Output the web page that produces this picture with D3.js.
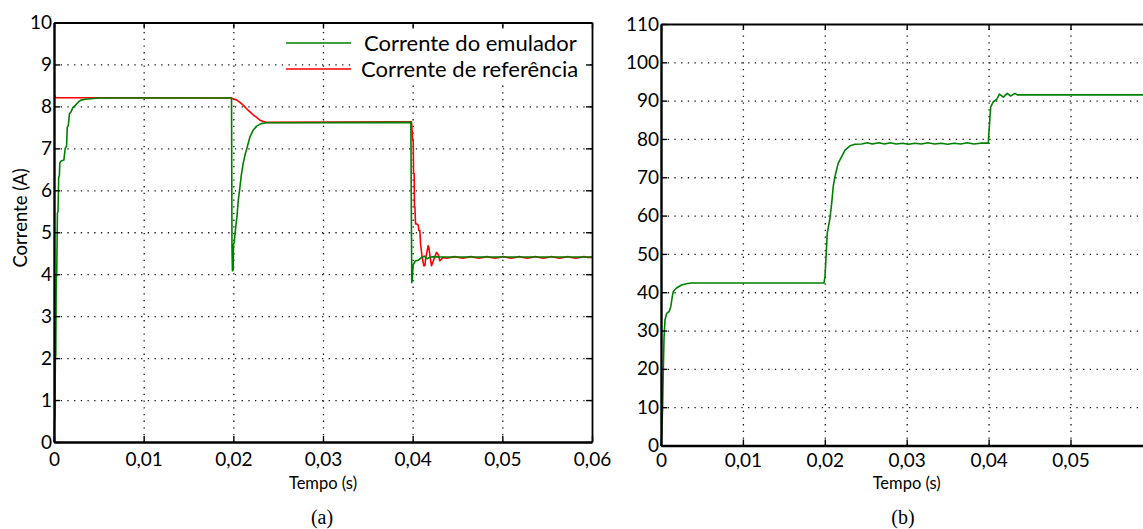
<!DOCTYPE html>
<html>
<head>
<meta charset="utf-8">
<script src="https://cdn.jsdelivr.net/npm/d3@7"></script>
<style>
  html, body { margin: 0; padding: 0; background: #fff; }
  svg { display: block; }
  text { font-family: Lato, "Noto Sans", sans-serif; fill: #000; }
  .cap { font-family: "Liberation Serif", "DejaVu Serif", serif; }
</style>
</head>
<body>
<svg id="fig" width="1143" height="529"></svg>
<script>
// ---- tick values ----
const timeTicks = [0, 0.01, 0.02, 0.03, 0.04, 0.05, 0.06];
const currentTicksA = [0, 1, 2, 3, 4, 5, 6, 7, 8, 9, 10];
const currentTicksB = [0, 10, 20, 30, 40, 50, 60, 70, 80, 90, 100, 110];

// ---- (a) emulator current, [time s, current A] ----
const emuladorA = [
  [0, 0], [0.00005, 0.5], [0.0001, 0.6], [0.00015, 2.0], [0.0002, 2.05], [0.00025, 3.9], [0.0003, 3.95],
  [0.00038, 5.45], [0.00045, 5.5], [0.00052, 6.3], [0.0006, 6.36], [0.00065, 6.65], [0.0008, 6.7],
  [0.0011, 6.72], [0.00125, 7.0], [0.0014, 7.05], [0.00148, 7.5], [0.0016, 7.55], [0.00172, 7.82],
  [0.0019, 7.87], [0.0021, 7.97], [0.0024, 8.03], [0.0027, 8.1], [0.003, 8.15], [0.0035, 8.17],
  [0.005, 8.2], [0.0198, 8.2],
  [0.01985, 4.6], [0.0199, 4.08], [0.01998, 4.1], [0.02002, 4.7], [0.0201, 4.76], [0.02025, 5.1],
  [0.0204, 5.36], [0.02055, 5.76], [0.02074, 6.08], [0.0209, 6.38], [0.0211, 6.64], [0.0213, 6.84],
  [0.0215, 6.99], [0.02185, 7.27], [0.0222, 7.43], [0.0226, 7.53], [0.0231, 7.59], [0.0237, 7.61],
  [0.0398, 7.62],
  [0.03985, 5.6], [0.0399, 3.8], [0.03995, 3.85], [0.04005, 4.22], [0.0403, 4.32], [0.0406, 4.33],
  [0.041, 4.4], [0.0413, 4.43], [0.0416, 4.37], [0.042, 4.41], [0.0424, 4.42], [0.043, 4.41],
  [0.06, 4.41]
];

// ---- (a) reference current, [time s, current A] ----
const referenciaA = [
  [0, 8.26], [0.0001, 8.25], [0.0002, 8.21], [0.0198, 8.2], [0.0199, 8.19], [0.02037, 8.15],
  [0.0207, 8.1], [0.0211, 8.03], [0.02145, 7.95], [0.02185, 7.87], [0.0222, 7.8], [0.0226, 7.74],
  [0.02297, 7.67], [0.02334, 7.64], [0.0237, 7.62], [0.0398, 7.63],
  [0.03987, 7.63], [0.04, 7.19], [0.04006, 7.19], [0.0401, 6.4], [0.04017, 6.4], [0.0402, 5.6],
  [0.04025, 5.6], [0.04032, 5.2], [0.04043, 5.2], [0.04062, 5.17], [0.0407, 5.04], [0.0408, 5.04],
  [0.04088, 4.72], [0.04106, 4.4], [0.04125, 4.2], [0.04136, 4.2], [0.04147, 4.4], [0.04173, 4.68],
  [0.04182, 4.62], [0.04192, 4.45], [0.0421, 4.2], [0.04236, 4.35], [0.04266, 4.52], [0.04285, 4.47],
  [0.04303, 4.32], [0.0434, 4.4], [0.0438, 4.38], [0.0442, 4.4], [0.0447, 4.42], [0.0451, 4.4],
  [0.0456, 4.38], [0.046, 4.4], [0.0465, 4.42], [0.0469, 4.4], [0.0474, 4.38], [0.0478, 4.4],
  [0.0483, 4.42], [0.0487, 4.4], [0.0492, 4.38], [0.0496, 4.4], [0.0501, 4.42], [0.0505, 4.4],
  [0.051, 4.38], [0.0514, 4.4], [0.0519, 4.42], [0.0523, 4.4], [0.0528, 4.38], [0.0532, 4.4],
  [0.0537, 4.42], [0.0541, 4.4], [0.0546, 4.38], [0.055, 4.4], [0.0555, 4.42], [0.0559, 4.4],
  [0.0564, 4.38], [0.0568, 4.4], [0.0573, 4.42], [0.0577, 4.4], [0.0582, 4.38], [0.0586, 4.4],
  [0.0591, 4.42], [0.0595, 4.4], [0.06, 4.4]
];

// ---- (b) emulator current, [time s, current] ----
const emuladorB = [
  [0, 0], [0.00009, 3.2], [0.0002, 10.2], [0.00028, 19.7], [0.00037, 28.1], [0.00049, 32.8],
  [0.0007, 34.5], [0.001, 35.0], [0.0012, 36.3], [0.00138, 38.9], [0.0015, 40.2], [0.0019, 41.1],
  [0.0025, 41.9], [0.0031, 42.2], [0.0037, 42.4], [0.0199, 42.4],
  [0.02002, 44.0], [0.02015, 49.3], [0.0203, 55.4], [0.02063, 59.3], [0.02084, 63.2], [0.02103, 67.6],
  [0.02124, 70.2], [0.02164, 73.7], [0.02206, 75.4], [0.02247, 77.1], [0.02308, 78.2], [0.02369, 78.6],
  [0.0245, 78.7], [0.0252, 79.0], [0.0258, 78.7], [0.0266, 79.0], [0.0273, 78.7], [0.028, 79.0],
  [0.0287, 78.7], [0.0295, 78.9], [0.0302, 78.6], [0.031, 78.9], [0.0318, 78.7], [0.0326, 79.0],
  [0.0334, 78.7], [0.0342, 78.9], [0.035, 78.6], [0.0358, 78.9], [0.0366, 78.7], [0.0374, 79.0],
  [0.0382, 78.7], [0.039, 78.9], [0.03996, 78.9],
  [0.04005, 81.9], [0.04017, 85.8], [0.04026, 88.4], [0.04057, 89.7], [0.04099, 90.3], [0.04131, 91.7],
  [0.0418, 90.9], [0.04228, 91.9], [0.0427, 91.2], [0.04322, 91.9], [0.0435, 91.5], [0.06, 91.5]
];

const svg = d3.select("#fig");
const figWidth = +svg.attr("width");
const ptLocale = d3.formatLocale({ decimal: ",", thousands: ".", grouping: [3], currency: ["R$", ""] });
const fmtTime = t => t === 0 ? "0" : ptLocale.format(".2f")(t);

function drawPanel(opt) {
  const x = d3.scaleLinear().domain([0, 0.06]).range([opt.left, opt.right]);
  const y = d3.scaleLinear().domain(opt.yDomain).range([opt.bottom, opt.top]);
  const g = svg.append("g");
  const w = opt.right - opt.left, h = opt.bottom - opt.top;

  // dotted grid
  g.append("g").attr("transform", `translate(0,${opt.bottom})`)
    .call(d3.axisBottom(x).tickValues(timeTicks.filter(t => t > 0 && t < 0.06)).tickSize(-h).tickFormat(""))
    .call(s => s.select(".domain").remove())
    .selectAll("line").attr("stroke", "#111").attr("stroke-width", 1.3).attr("stroke-dasharray", "1.3,5.4");
  g.append("g").attr("transform", `translate(${opt.left},0)`)
    .call(d3.axisLeft(y).tickValues(opt.yTicks.filter(v => v > opt.yDomain[0] && v < opt.yDomain[1])).tickSize(-w).tickFormat(""))
    .call(s => s.select(".domain").remove())
    .selectAll("line").attr("stroke", "#111").attr("stroke-width", 1.3).attr("stroke-dasharray", "1.3,5.4");

  // curves
  const line = d3.line().x(d => x(d[0])).y(d => y(d[1]));
  opt.series.forEach(s => {
    g.append("path").datum(s.data).attr("d", line)
      .attr("fill", "none").attr("stroke", s.color).attr("stroke-width", 1.6)
      .attr("stroke-linejoin", "round");
  });

  // frame with inward ticks; labels only where the tick sits inside the figure
  const bottomAxis = g.append("g").attr("transform", `translate(0,${opt.bottom})`)
    .call(d3.axisBottom(x).tickValues(timeTicks).tickSizeInner(-6).tickSizeOuter(0).tickPadding(opt.xPad)
      .tickFormat(t => x(t) + 15 < figWidth ? fmtTime(t) : ""));
  const topAxis = g.append("g").attr("transform", `translate(0,${opt.top})`)
    .call(d3.axisTop(x).tickValues(timeTicks).tickSizeInner(-6).tickSizeOuter(0).tickFormat(""));
  const leftAxis = g.append("g").attr("transform", `translate(${opt.left},0)`)
    .call(d3.axisLeft(y).tickValues(opt.yTicks).tickSizeInner(-6).tickSizeOuter(0).tickPadding(2));
  const rightAxis = g.append("g").attr("transform", `translate(${opt.right},0)`)
    .call(d3.axisRight(y).tickValues(opt.yTicks).tickSizeInner(-6).tickSizeOuter(0).tickFormat(""));
  [bottomAxis, leftAxis].forEach(a => a.select(".domain").attr("stroke", "#000").attr("stroke-width", 2.4));
  [topAxis, rightAxis].forEach(a => a.select(".domain").attr("stroke", "#000").attr("stroke-width", 1.8));
  [bottomAxis, topAxis, leftAxis, rightAxis].forEach(a => {
    a.selectAll(".tick line").attr("stroke", "#000").attr("stroke-width", 1.4);
    a.selectAll("text").style("font-family", "Lato, sans-serif").style("font-size", "19px").attr("fill", "#000");
  });

  // x-axis title and panel caption
  svg.append("text").attr("x", (opt.left + x(0.06)) / 2).attr("y", 489)
    .attr("text-anchor", "middle").style("font-size", "16.5px").text("Tempo (s)");
  svg.append("text").attr("class", "cap").attr("x", opt.capX).attr("y", 524)
    .attr("text-anchor", "middle").style("font-size", "20px").text(opt.caption);
  return { x, y, g };
}

drawPanel({
  left: 54, right: 592, top: 22.5, bottom: 442, yDomain: [0, 10], yTicks: currentTicksA, xPad: 11,
  series: [{ data: referenciaA, color: "#ff0000" }, { data: emuladorA, color: "#008000" }],
  caption: "(a)", capX: 322
});
drawPanel({
  left: 661, right: 1152.4, top: 24, bottom: 445.5, yDomain: [0, 110], yTicks: currentTicksB, xPad: 8,
  series: [{ data: emuladorB, color: "#008000" }],
  caption: "(b)", capX: 903
});

// y-axis title of (a)
svg.append("text").attr("transform", "translate(27,218) rotate(-90)")
  .attr("text-anchor", "middle").style("font-size", "18.5px").text("Corrente (A)");

// legend of (a)
const legendItems = [
  { label: "Corrente do emulador", color: "#008000" },
  { label: "Corrente de referência", color: "#ff0000" }
];
const lg = svg.append("g").attr("transform", "translate(286,43)");
legendItems.forEach((d, i) => {
  const row = lg.append("g").attr("transform", `translate(0,${i * 26})`);
  row.append("rect").attr("x", 68).attr("y", -12).attr("width", 232).attr("height", 24).attr("fill", "#fff");
  row.append("line").attr("x1", 0).attr("x2", 65).attr("stroke", d.color).attr("stroke-width", 1.6);
  row.append("text").attr("x", 78 - i * 3).attr("y", 8).style("font-size", "22px").text(d.label);
});
</script>
</body>
</html>
